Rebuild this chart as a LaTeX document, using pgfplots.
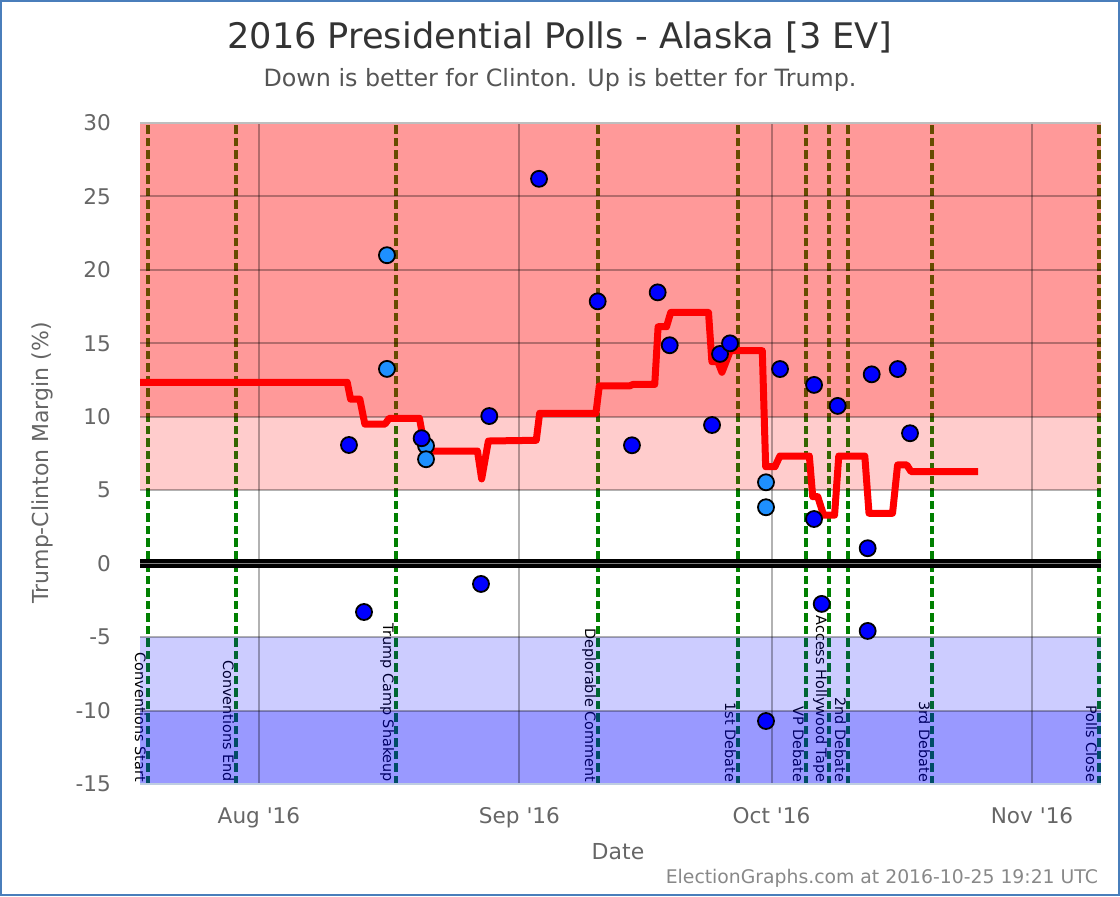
\documentclass[border=0pt]{standalone}
\usepackage{fontspec}
\setmainfont{DejaVu Sans}
\usepackage{pgfplots}
\pgfplotsset{compat=1.18}
\definecolor{ptdark}{RGB}{0,0,255}
\definecolor{ptlight}{RGB}{30,144,255}
\definecolor{evgreen}{RGB}{0,128,0}
\definecolor{frameblue}{RGB}{74,126,187}
\definecolor{titlegray}{RGB}{51,51,51}
\definecolor{subgray}{RGB}{85,85,85}
\definecolor{tickgray}{RGB}{102,102,102}
\definecolor{footgray}{RGB}{136,136,136}
\definecolor{bottomline}{RGB}{190,205,225}
\definecolor{topline}{RGB}{190,190,190}
\tikzset{evlab/.style={rotate=-90, anchor=north east, font=\fontsize{7.2}{8}\selectfont, inner sep=0.8pt, text=black}}
\begin{document}
\begin{tikzpicture}
\path (0pt,0pt) rectangle (560pt,448pt);
\draw[frameblue, line width=1pt] (0.5pt,0.5pt) rectangle (559.5pt,447.5pt);
\begin{axis}[
  at={(70pt,56pt)}, anchor=south west,
  scale only axis, width=480.5pt, height=330.5pt,
  xmin=-14.16, xmax=100.21, ymin=-15, ymax=30,
  xtick={0,31,61,92},
  xticklabels={Aug \textquotesingle16, Sep \textquotesingle16, Oct \textquotesingle16, Nov \textquotesingle16},
  ytick={-15,-10,...,30},
  axis line style={draw=none},
  major tick length=0pt,
  /pgf/number format/assume math mode=true,
  tick label style={font=\fontsize{10.8}{13}\selectfont, text=tickgray},
  xticklabel style={yshift=-8pt},
  yticklabel style={xshift=-11pt},
  clip=false,
]
% event lines
\pgfplotsforeachungrouped \ex in {-13.21,-2.74,16.31,40.35,57.01,65.10,67.84,70.10,80.10,99.97}{
  \edef\tmp{\noexpand\draw[evgreen, dash pattern=on 4.25pt off 2pt, line width=1.8pt] (axis cs:\ex,-15) -- (axis cs:\ex,30);}
  \tmp
}
% event labels
\node[evlab] at (axis cs:-13.21,-15) {Conventions Start};
\node[evlab] at (axis cs:-2.74,-15) {Conventions End};
\node[evlab] at (axis cs:16.31,-15) {Trump Camp Shakeup};
\node[evlab] at (axis cs:40.35,-15) {Deplorable Comment};
\node[evlab] at (axis cs:57.01,-15) {1st Debate};
\node[evlab] at (axis cs:65.10,-15) {VP Debate};
\node[evlab] at (axis cs:67.84,-15) {Access Hollywood Tape};
\node[evlab] at (axis cs:70.10,-15) {2nd Debate};
\node[evlab] at (axis cs:80.10,-15) {3rd Debate};
\node[evlab] at (axis cs:99.97,-15) {Polls Close};
% bands
\fill[red, opacity=0.4] (axis cs:-14.16,10) rectangle (axis cs:100.21,30);
\fill[red, opacity=0.2] (axis cs:-14.16,5) rectangle (axis cs:100.21,10);
\fill[blue, opacity=0.2] (axis cs:-14.16,-10) rectangle (axis cs:100.21,-5);
\fill[blue, opacity=0.4] (axis cs:-14.16,-15) rectangle (axis cs:100.21,-10);
% grid
\pgfplotsforeachungrouped \gy in {-10,-5,5,10,15,20,25}{
  \edef\tmp{\noexpand\draw[black, opacity=0.3, line width=1pt] (axis cs:-14.16,\gy) -- (axis cs:100.21,\gy);}
  \tmp
}
\pgfplotsforeachungrouped \gx in {0,31,61,92}{
  \edef\tmp{\noexpand\draw[black, opacity=0.3, line width=1pt] (axis cs:\gx,-15) -- (axis cs:\gx,30);}
  \tmp
}
\draw[topline, line width=1pt] (axis cs:-14.16,30) -- (axis cs:100.21,30);
\draw[bottomline, line width=1pt] (axis cs:-14.16,-15) -- (axis cs:100.21,-15);
% zero line
\draw[black, line width=4.5pt] (axis cs:-14.16,0) -- (axis cs:100.21,0);
\draw[gray, line width=0.8pt] (axis cs:-14.16,0) -- (axis cs:100.21,0);
% average line
\addplot[red, line width=3.5pt, line join=round, mark=none] coordinates {
(-14.16,12.35) (10.5,12.35) (10.9,11.2) (12.0,11.2) (12.6,9.5) (15.0,9.5) (15.5,9.9)
(19.1,9.9) (19.8,7.67) (26.0,7.67) (26.5,5.77) (27.3,8.35) (33.0,8.4) (33.4,10.24)
(40.1,10.24) (40.5,12.1) (44.1,12.1) (44.5,12.2) (47.1,12.2) (47.5,16.13) (48.5,16.13)
(49.0,17.1) (53.5,17.1) (53.9,13.75) (54.6,13.75) (55.1,13.03) (56.1,14.5) (59.9,14.5)
(60.3,6.6) (61.4,6.6) (62.0,7.33) (65.5,7.33) (65.9,4.56) (66.5,4.56) (67.2,3.3)
(68.5,3.3) (69.0,7.33) (72.1,7.33) (72.6,3.43) (75.4,3.43) (76.0,6.72) (77.1,6.72)
(77.6,6.27) (85.6,6.27)
};
% polls
\addplot[only marks, mark=*, mark size=4pt, mark options={fill=ptlight, draw=black, line width=0.9pt}] coordinates {
(15.23,21.0) (15.23,13.26) (19.88,8.03) (19.88,7.11) (60.34,5.54) (60.34,3.84)
};
\addplot[only marks, mark=*, mark size=4pt, mark options={fill=ptdark, draw=black, line width=0.9pt}] coordinates {
(10.71,8.08) (12.50,-3.29) (19.36,8.54) (26.42,-1.38) (27.41,10.05) (33.33,26.20)
(40.31,17.86) (44.39,8.06) (47.45,18.47) (48.88,14.87) (53.92,9.44) (54.87,14.28)
(56.06,15.0) (60.34,-10.71) (62.01,13.25) (66.06,12.17) (66.06,3.04) (66.97,-2.74)
(68.87,10.74) (72.44,1.05) (72.44,-4.58) (72.92,12.89) (76.02,13.25) (77.48,8.88)
};
\end{axis}
\node[font=\fontsize{17.6}{21}\selectfont, text=titlegray] at (280pt,429.5pt) {2016 Presidential Polls - Alaska [3 EV]};
\node[font=\fontsize{11.9}{14}\selectfont, text=subgray] at (280pt,408pt) {Down is better for Clinton. Up is better for Trump.};
\node[font=\fontsize{11}{13}\selectfont, text=tickgray] at (309pt,22pt) {Date};
\node[font=\fontsize{11}{13}\selectfont, text=tickgray, rotate=90] at (21pt,216.5pt) {Trump-Clinton Margin (\%)};
\node[font=\fontsize{9.4}{11}\selectfont, text=footgray, anchor=east] at (552.5pt,9pt) {ElectionGraphs.com at 2016-10-25 19:21 UTC};
\end{tikzpicture}
\end{document}
